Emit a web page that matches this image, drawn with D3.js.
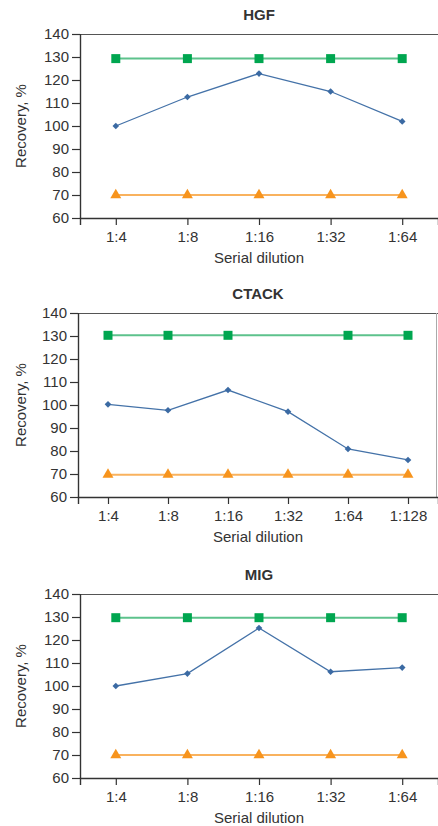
<!DOCTYPE html>
<html>
<head>
<meta charset="utf-8">
<script src="https://cdn.jsdelivr.net/npm/d3@7"></script>
<style>
  body { margin: 0; background: #fff; }
  text { font-family: "Liberation Sans", Arial, sans-serif; fill: #333; }
</style>
</head>
<body>
<svg id="chart" width="438" height="826"></svg>
<script>
// values
var yTicks = [60, 70, 80, 90, 100, 110, 120, 130, 140];

var hgfDilutions = ["1:4", "1:8", "1:16", "1:32", "1:64"];
var hgfRecovery = [100, 112.6, 122.8, 115, 102];
var hgfUpper = [129.3, 129.3, 129.3, 129.3, 129.3];
var hgfLower = [70, 70, 70, 70, 70];

var ctackDilutions = ["1:4", "1:8", "1:16", "1:32", "1:64", "1:128"];
var ctackRecovery = [100.3, 97.7, 106.5, 97.1, 80.9, 76.1];
var ctackUpper = [130.3, 130.3, 130.3, 130.3, 130.3];
var ctackUpperAt = ["1:4", "1:8", "1:16", "1:64", "1:128"];
var ctackLower = [69.7, 69.7, 69.7, 69.7, 69.7, 69.7];

var migDilutions = ["1:4", "1:8", "1:16", "1:32", "1:64"];
var migRecovery = [100, 105.4, 125.2, 106.2, 108];
var migUpper = [129.7, 129.7, 129.7, 129.7, 129.7];
var migLower = [70, 70, 70, 70, 70];

var panels = [
    {title: "HGF", top: 34, left: 80, cats: hgfDilutions, rec: hgfRecovery,
     upper: hgfUpper, upperAt: hgfDilutions, lower: hgfLower, rightBorder: false},
    {title: "CTACK", top: 313, left: 78, cats: ctackDilutions, rec: ctackRecovery,
     upper: ctackUpper, upperAt: ctackUpperAt, lower: ctackLower, rightBorder: true},
    {title: "MIG", top: 594, left: 80, cats: migDilutions, rec: migRecovery,
     upper: migUpper, upperAt: migDilutions, lower: migLower, rightBorder: false}
];

var svg = d3.select("#chart");
var plotH = 184, right = 438;

panels.forEach(function(p) {
    var g = svg.append("g");

    var x = d3.scalePoint().domain(p.cats).range([p.left, right]).padding(0.5);
    var y = d3.scaleLinear().domain([60, 140]).range([p.top + plotH, p.top]);

    // frame top line
    g.append("line")
        .attr("x1", p.left).attr("x2", right)
        .attr("y1", p.top + 0.5).attr("y2", p.top + 0.5)
        .attr("stroke", "#555").attr("stroke-width", 1.2);
    if (p.rightBorder) {
        g.append("line")
            .attr("x1", right - 1.5).attr("x2", right - 1.5)
            .attr("y1", p.top).attr("y2", p.top + plotH)
            .attr("stroke", "#aaa").attr("stroke-width", 1);
    }

    var yAxis = g.append("g")
        .attr("transform", "translate(" + p.left + ",0)")
        .call(d3.axisLeft(y).tickValues(yTicks).tickSize(8).tickPadding(3));
    var xAxis = g.append("g")
        .attr("transform", "translate(0," + (p.top + plotH) + ")")
        .call(d3.axisBottom(x).tickSize(7).tickPadding(6));
    [yAxis, xAxis].forEach(function(a) {
        a.select(".domain").attr("stroke", "#333").attr("stroke-width", 1.4);
        a.selectAll(".tick line").attr("stroke", "#333").attr("stroke-width", 1.2);
        a.selectAll(".tick text").style("font-size", "15px").attr("fill", "#3a3a3a");
    });
    yAxis.select(".domain").attr("d", "M0.5," + (p.top + plotH) + "V" + p.top);

    // titles
    g.append("text")
        .attr("x", (p.left + right) / 2).attr("y", p.top - 14)
        .attr("text-anchor", "middle")
        .style("font-size", "15px").style("font-weight", "bold").attr("fill", "#111")
        .text(p.title);
    g.append("text")
        .attr("transform", "translate(26," + (p.top + plotH / 2) + ") rotate(-90)")
        .attr("text-anchor", "middle")
        .style("font-size", "15px")
        .text("Recovery, %");
    g.append("text")
        .attr("x", (p.left + right) / 2).attr("y", p.top + plotH + 45)
        .attr("text-anchor", "middle")
        .style("font-size", "15px")
        .text("Serial dilution");

    var line = d3.line().x(function(d) { return x(d[0]); }).y(function(d) { return y(d[1]); });

    var series = [
        {vals: d3.zip(p.upperAt, p.upper), line: "#5dc28c", fill: "#00a650", lw: 2,
         sym: d3.symbolSquare, size: 81, rot: 0},
        {vals: d3.zip(p.cats, p.lower), line: "#f9b25e", fill: "#f7941d", lw: 2,
         sym: d3.symbolTriangle, size: 52, rot: 0},
        {vals: d3.zip(p.cats, p.rec), line: "#4472a8", fill: "#3b6aa3", lw: 1.3,
         sym: d3.symbolSquare, size: 22, rot: 45}
    ];

    series.forEach(function(s) {
        g.append("path")
            .datum(s.vals)
            .attr("fill", "none")
            .attr("stroke", s.line)
            .attr("stroke-width", s.lw)
            .attr("d", line);
        g.selectAll(null)
            .data(s.vals)
            .enter().append("path")
            .attr("transform", function(d) {
                return "translate(" + x(d[0]) + "," + y(d[1]) + ") rotate(" + s.rot + ")";
            })
            .attr("fill", s.fill)
            .attr("d", d3.symbol().type(s.sym).size(s.size));
    });
});
</script>
</body>
</html>
